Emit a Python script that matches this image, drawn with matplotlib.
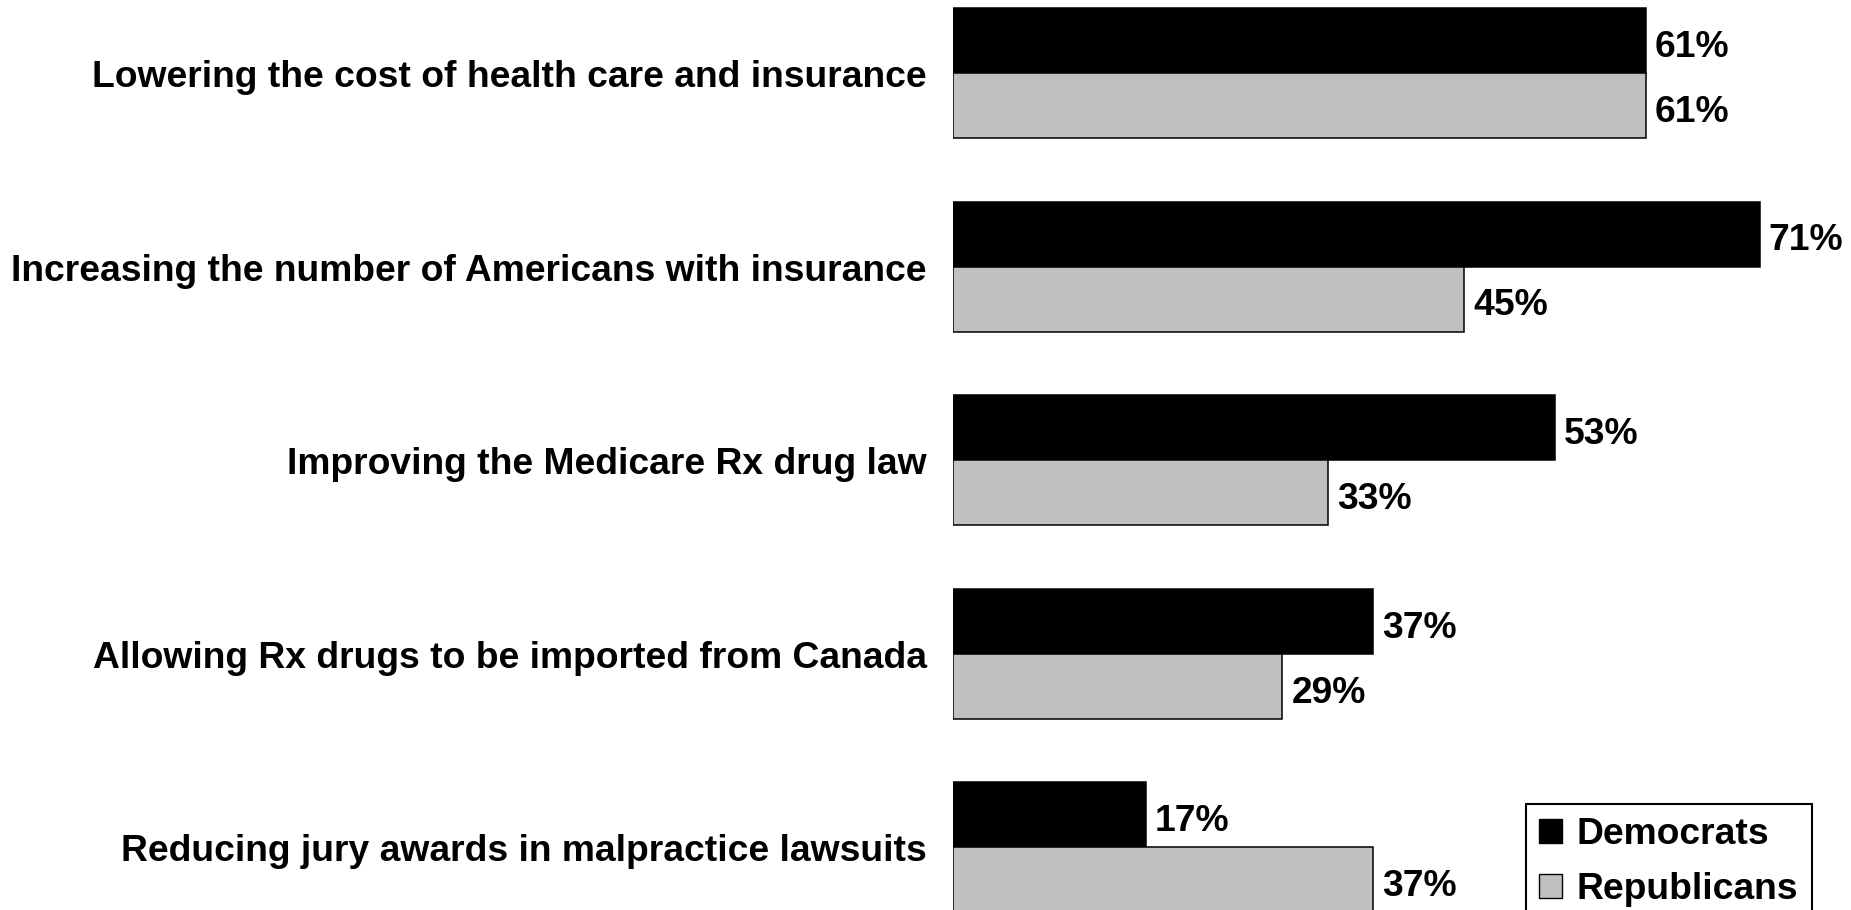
import matplotlib
matplotlib.use("Agg")
import matplotlib.pyplot as plt
from matplotlib.patches import Patch
from matplotlib.transforms import ScaledTranslation

categories = [
    "Lowering the cost of health care and insurance",
    "Increasing the number of Americans with insurance",
    "Improving the Medicare Rx drug law",
    "Allowing Rx drugs to be imported from Canada",
    "Reducing jury awards in malpractice lawsuits",
]
democrats = [61, 71, 53, 37, 17]
republicans = [61, 45, 33, 29, 37]
series_names = ["Democrats", "Republicans"]

W, H, DPI = 1851, 910, 100
plt.rcParams['font.family'] = ['Liberation Sans', 'DejaVu Sans']
plt.rcParams['font.weight'] = 'bold'
FS = 26.8

fig = plt.figure(figsize=(W / DPI, H / DPI), dpi=DPI)
left_px = 953
ax = fig.add_axes([left_px / W, 0, 1 - left_px / W, 1])

px_per_pct = 11.36
ax.set_xlim(0, (W - left_px) / px_per_pct)
period = 193.6
top = -73 / period
ax.set_ylim(top + H / period, top)
h = 65 / period

ys = list(range(len(categories)))
ax.barh([y - h / 2 for y in ys], democrats, height=h, color='black',
        edgecolor='black', linewidth=1.1)
ax.barh([y + h / 2 for y in ys], republicans, height=h, color='#C0C0C0',
        edgecolor='black', linewidth=1.1)

down = ScaledTranslation(0, -2 / 72, fig.dpi_scale_trans)
down_lbl = ScaledTranslation(0, -0.4 / 72, fig.dpi_scale_trans)
off = 9 / px_per_pct
for y, d, r in zip(ys, democrats, republicans):
    ax.text(d + off, y - h / 2, f"{d}%", va='center_baseline', ha='left',
            fontsize=FS, fontweight='bold', transform=ax.transData + down)
    ax.text(r + off, y + h / 2, f"{r}%", va='center_baseline', ha='left',
            fontsize=FS, fontweight='bold', transform=ax.transData + down)

ax.set_yticks(ys)
ax.set_yticklabels(categories, fontsize=FS, fontweight='bold')
ax.tick_params(axis='y', length=0, pad=19)
for lbl in ax.get_yticklabels():
    lbl.set_transform(lbl.get_transform() + down_lbl)
ax.set_xticks([])
for s in ax.spines.values():
    s.set_visible(False)

handles = [Patch(facecolor='black', edgecolor='black', linewidth=1.0),
           Patch(facecolor='#C0C0C0', edgecolor='black', linewidth=1.0)]
leg = fig.legend(handles, series_names, loc='upper left',
                 bbox_to_anchor=(1526 / W, 1 - 804 / H),
                 bbox_transform=fig.transFigure, borderaxespad=0,
                 prop={'weight': 'bold', 'size': FS},
                 handlelength=0.62, handleheight=0.62, handletextpad=0.38,
                 borderpad=0.36, labelspacing=0.52, fancybox=False,
                 framealpha=1, edgecolor='black')
leg.get_frame().set_linewidth(1.5)

fig.savefig("out.png", dpi=DPI)
